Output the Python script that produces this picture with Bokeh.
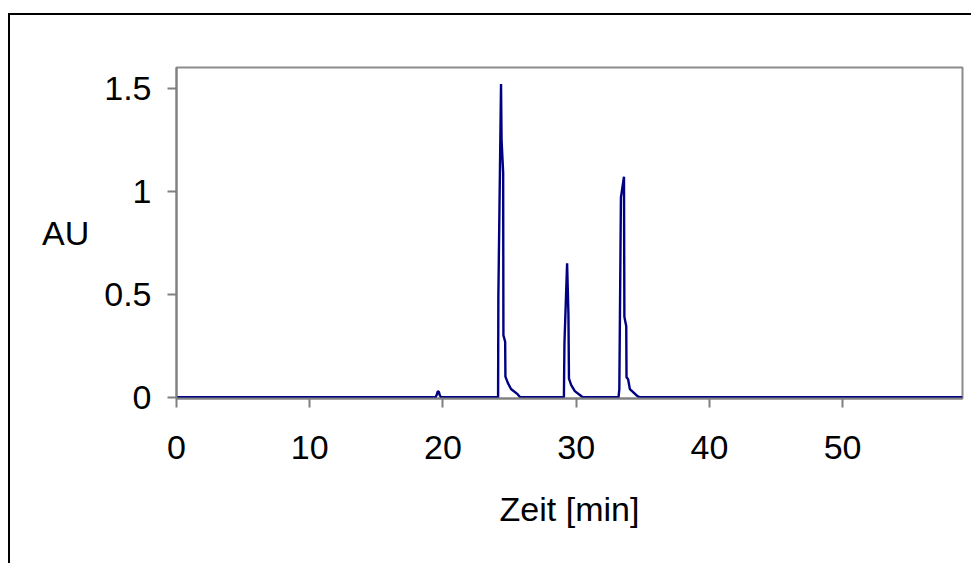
from bokeh.plotting import figure
from bokeh.models import Range1d, FixedTicker
from bokeh.embed import file_html
from bokeh.resources import INLINE

# Chromatogram trace (time in min, absorbance in AU)
time_min = [0.0, 19.45, 19.55, 19.62, 19.70, 19.76, 19.85,
            24.14, 24.16, 24.36, 24.40, 24.52, 24.54, 24.67, 24.69, 24.87, 25.11, 25.60, 25.80,
            29.08, 29.12, 29.32, 29.42, 29.46, 29.62, 29.90, 30.30, 30.50,
            33.18, 33.24, 33.36, 33.59, 33.62, 33.76, 33.78, 33.90, 34.03, 34.60, 34.80,
            59.0]
au = [0.0, 0.0, 0.015, 0.03, 0.025, 0.01, 0.0,
      0.0, 0.49, 1.52, 1.25, 1.09, 0.30, 0.27, 0.10, 0.07, 0.04, 0.015, 0.0,
      0.0, 0.26, 0.65, 0.40, 0.09, 0.06, 0.03, 0.01, 0.0,
      0.0, 0.04, 0.97, 1.07, 0.39, 0.345, 0.097, 0.087, 0.04, 0.005, 0.0,
      0.0]

x_ticks = [0, 10, 20, 30, 40, 50]
y_ticks = [0, 0.5, 1, 1.5]
x_label = "Zeit [min]"
y_label = "AU"

p = figure(width=963, height=550, output_backend="svg", toolbar_location=None,
           x_range=Range1d(0, 59), y_range=Range1d(-0.006, 1.6),
           min_border_left=166, min_border_right=11, min_border_top=52,
           min_border_bottom=167)
p.styles = {"border-top": "2px solid black", "border-left": "2px solid black",
            "margin-top": "13px", "margin-left": "8px"}

p.line(time_min, au, line_color="#000080", line_width=2.4)

p.grid.visible = False
p.outline_line_color = "#8c8c8c"
p.outline_line_width = 2
p.background_fill_color = "white"
p.border_fill_color = "white"

for ax in (p.xaxis[0], p.yaxis[0]):
    ax.axis_line_color = "#808080"
    ax.axis_line_width = 2
    ax.major_tick_line_color = "#808080"
    ax.major_tick_line_width = 2
    ax.major_tick_out = 9
    ax.major_tick_in = 0
    ax.minor_tick_line_color = None
    ax.major_label_text_font = "Liberation Sans"
    ax.major_label_text_font_size = "34px"
    ax.major_label_text_color = "black"
    ax.axis_label_text_font = "Liberation Sans"
    ax.axis_label_text_font_size = "34px"
    ax.axis_label_text_font_style = "normal"
    ax.axis_label_text_color = "black"

p.xaxis.ticker = FixedTicker(ticks=x_ticks)
p.yaxis.ticker = FixedTicker(ticks=y_ticks)
p.xaxis.major_label_standoff = 28
p.yaxis.major_label_standoff = 16
p.xaxis.axis_label = x_label
p.yaxis.axis_label = y_label
p.xaxis.axis_label_standoff = 28
p.yaxis.axis_label_standoff = 12
p.yaxis.axis_label_orientation = "horizontal"

open("out.html", "w").write(file_html(p, INLINE))
